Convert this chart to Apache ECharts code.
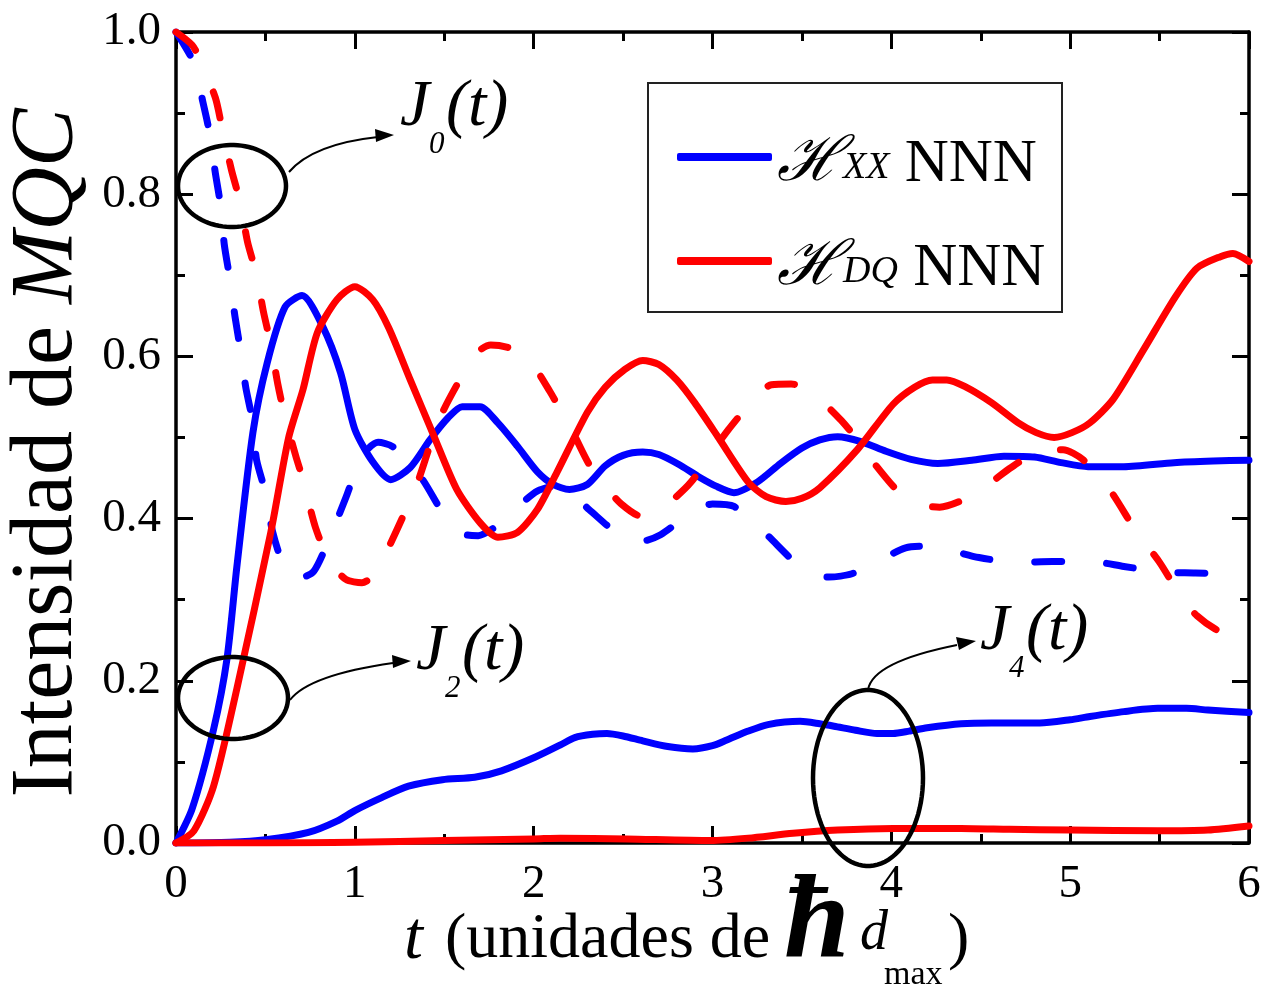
<!DOCTYPE html>
<html>
<head>
<meta charset="utf-8">
<script src="https://cdn.jsdelivr.net/npm/echarts@6/dist/echarts.min.js"></script>
<style>
  html, body { margin: 0; padding: 0; background: #fff; }
  #chart { width: 1263px; height: 986px; }
</style>
</head>
<body>
<div id="chart"></div>
<script>
// axis ticks
const xTicks = [0, 1, 2, 3, 4, 5, 6];
const yTicks = [0.0, 0.2, 0.4, 0.6, 0.8, 1.0];
const legendNames = ["XX", "DQ"];

// J0(t), dashed
const xxJ0 = [[0,1.0],[0.1,0.962],[0.15,0.914],[0.19,0.873],[0.22,0.826],[0.25,0.785],[0.27,0.738],[0.3,0.697],
  [0.33,0.649],[0.36,0.608],[0.39,0.562],[0.43,0.518],[0.45,0.473],[0.5,0.432],[0.54,0.384],[0.6,0.344],[0.68,0.326],
  [0.77,0.335],[0.86,0.377],[0.95,0.426],[1.04,0.477],[1.13,0.494],[1.21,0.489],[1.37,0.451],[1.51,0.401],[1.61,0.381],
  [1.69,0.379],[1.8,0.392],[1.91,0.414],[2.02,0.434],[2.15,0.441],[2.31,0.411],[2.49,0.378],[2.6,0.372],[2.71,0.38],
  [2.89,0.409],[3.0,0.418],[3.12,0.415],[3.29,0.383],[3.51,0.337],[3.65,0.328],[3.78,0.332],[3.92,0.347],[4.08,0.364],
  [4.2,0.366],[4.31,0.362],[4.49,0.352],[4.71,0.346],[4.9,0.347],[5.12,0.347],[5.3,0.341],[5.52,0.334],[5.7,0.333],
  [5.93,0.331],[6.0,0.329]];
const dqJ0 = [[0,1.0],[0.09,0.984],[0.13,0.968],[0.22,0.919],[0.26,0.879],[0.31,0.83],[0.36,0.789],[0.4,0.741],
  [0.45,0.701],[0.49,0.654],[0.53,0.615],[0.57,0.565],[0.61,0.525],[0.67,0.477],[0.71,0.448],[0.78,0.389],[0.86,0.347],
  [0.95,0.325],[1.04,0.321],[1.1,0.329],[1.17,0.356],[1.27,0.403],[1.35,0.444],[1.42,0.49],[1.49,0.531],[1.61,0.58],
  [1.69,0.606],[1.76,0.614],[1.87,0.61],[1.98,0.594],[2.09,0.557],[2.22,0.506],[2.31,0.467],[2.4,0.44],[2.49,0.418],
  [2.6,0.403],[2.66,0.408],[2.77,0.422],[2.88,0.445],[3.0,0.483],[3.09,0.51],[3.17,0.532],[3.23,0.549],[3.33,0.565],
  [3.44,0.566],[3.55,0.556],[3.63,0.541],[3.72,0.521],[3.8,0.5],[3.88,0.475],[4.04,0.433],[4.15,0.418],[4.27,0.414],
  [4.44,0.427],[4.56,0.445],[4.67,0.463],[4.85,0.485],[4.96,0.485],[5.07,0.473],[5.22,0.436],[5.37,0.384],[5.5,0.346],
  [5.63,0.3],[5.71,0.28],[5.81,0.264],[5.9,0.256],[6.0,0.262]];

// J2(t), solid
const xxJ2 = [[0,0],[0.09,0.042],[0.21,0.14],[0.285,0.227],[0.34,0.34],[0.43,0.506],[0.51,0.592],[0.61,0.661],
  [0.705,0.675],[0.82,0.637],[0.92,0.58],[1.0,0.51],[1.1,0.47],[1.2,0.448],[1.31,0.463],[1.42,0.497],[1.52,0.524],
  [1.6,0.538],[1.7,0.538],[1.8,0.518],[1.91,0.489],[2.02,0.458],[2.11,0.442],[2.2,0.436],[2.3,0.442],[2.4,0.465],
  [2.5,0.478],[2.61,0.482],[2.7,0.479],[2.81,0.467],[2.92,0.452],[3.02,0.44],[3.12,0.432],[3.25,0.445],[3.38,0.468],
  [3.5,0.487],[3.6,0.497],[3.7,0.501],[3.83,0.495],[3.97,0.483],[4.11,0.473],[4.26,0.468],[4.45,0.472],[4.63,0.477],
  [4.8,0.476],[4.95,0.469],[5.1,0.464],[5.3,0.464],[5.58,0.469],[5.8,0.471],[6.0,0.472]];
const dqJ2 = [[0,0],[0.1,0.015],[0.21,0.07],[0.34,0.19],[0.53,0.383],[0.63,0.5],[0.71,0.559],[0.79,0.629],[0.9,0.67],
  [1.0,0.686],[1.1,0.67],[1.19,0.635],[1.31,0.571],[1.44,0.503],[1.57,0.436],[1.7,0.395],[1.8,0.377],[1.91,0.383],
  [2.02,0.411],[2.13,0.457],[2.3,0.531],[2.4,0.562],[2.51,0.584],[2.61,0.595],[2.7,0.59],[2.8,0.571],[2.9,0.543],
  [3.03,0.501],[3.2,0.445],[3.3,0.427],[3.41,0.421],[3.5,0.425],[3.6,0.438],[3.81,0.485],[4.01,0.541],[4.13,0.562],
  [4.23,0.571],[4.31,0.571],[4.41,0.563],[4.56,0.543],[4.71,0.518],[4.81,0.506],[4.91,0.5],[5.01,0.506],[5.11,0.518],
  [5.24,0.547],[5.41,0.608],[5.59,0.674],[5.71,0.709],[5.84,0.723],[5.91,0.727],[6.0,0.717]];

// J4(t), solid
const xxJ4 = [[0,0],[0.3,0.001],[0.5,0.004],[0.74,0.013],[0.9,0.027],[1.0,0.04],[1.15,0.056],[1.3,0.07],[1.49,0.078],
  [1.67,0.081],[1.82,0.089],[2.01,0.106],[2.15,0.121],[2.23,0.13],[2.33,0.134],[2.41,0.135],[2.5,0.132],[2.61,0.126],
  [2.75,0.119],[2.89,0.116],[3.0,0.12],[3.08,0.127],[3.2,0.138],[3.31,0.146],[3.49,0.15],[3.6,0.147],[3.68,0.144],
  [3.8,0.139],[3.92,0.135],[4.01,0.135],[4.1,0.138],[4.2,0.142],[4.39,0.147],[4.56,0.148],[4.83,0.148],[5.0,0.152],
  [5.11,0.156],[5.3,0.162],[5.49,0.166],[5.65,0.166],[5.77,0.164],[6.0,0.161]];
const dqJ4 = [[0,0],[0.5,0.0],[1.0,0.001],[1.5,0.003],[2.0,0.005],[2.15,0.006],[2.52,0.005],[2.99,0.003],[3.2,0.006],
  [3.45,0.012],[3.7,0.016],[4.01,0.018],[4.39,0.018],[4.66,0.017],[5.0,0.016],[5.49,0.015],[5.77,0.016],[6.0,0.021]];

const BLUE = "#0000ff";
const RED = "#ff0000";
const SERIF = '"Liberation Serif", "Times New Roman", serif';
const SYM = '"DejaVu Serif", "Liberation Serif", serif';

function lineSeries(name, data, color, dashed) {
  return {
    name, type: "line", data, symbol: "none", showSymbol: false, smooth: 0.25,
    animation: false, silent: true,
    itemStyle: { color },
    lineStyle: { color, width: 7, type: dashed ? [27, 45] : "solid", cap: "round", join: "round" }
  };
}

function xAxisCfg(position, labels) {
  return {
    type: "value", position, min: xTicks[0], max: xTicks[xTicks.length - 1], interval: 1,
    axisLine: { show: true, onZero: false, lineStyle: { color: "#000", width: 3.5 } },
    axisTick: { show: true, inside: true, length: 17, lineStyle: { color: "#000", width: 3 } },
    minorTick: { show: true, splitNumber: 2, length: 9, lineStyle: { color: "#000", width: 3 } },
    axisLabel: { show: labels, color: "#000", fontSize: 47, fontFamily: SERIF, margin: 18 },
    splitLine: { show: false }, minorSplitLine: { show: false }
  };
}

function yAxisCfg(position, labels) {
  return {
    type: "value", position, min: yTicks[0], max: yTicks[yTicks.length - 1], interval: 0.2,
    axisLine: { show: true, onZero: false, lineStyle: { color: "#000", width: 3.5 } },
    axisTick: { show: true, inside: true, length: 17, lineStyle: { color: "#000", width: 3 } },
    minorTick: { show: true, splitNumber: 2, length: 9, lineStyle: { color: "#000", width: 3 } },
    axisLabel: { show: labels, color: "#000", fontSize: 47, fontFamily: SERIF, margin: 15, formatter: v => v.toFixed(1) },
    splitLine: { show: false }, minorSplitLine: { show: false }
  };
}

// outline of an ellipse drawn as a polygon (annotation only)
function ellipsePoints(cx, cy, rx, ry) {
  const pts = [];
  for (let i = 0; i < 90; i++) {
    const a = (i / 90) * Math.PI * 2;
    pts.push([cx + rx * Math.cos(a), cy + ry * Math.sin(a)]);
  }
  return pts;
}

function ellipse(cx, cy, rx, ry) {
  return { type: "polygon", z: 10, shape: { points: ellipsePoints(cx, cy, rx, ry) },
    style: { fill: "none", stroke: "#000", lineWidth: 4.5 } };
}

function arrow(x1, y1, cx, cy, x2, y2, tip, b1, b2) {
  return [
    { type: "bezierCurve", z: 10, shape: { x1, y1, cpx1: cx, cpy1: cy, x2, y2 },
      style: { fill: "none", stroke: "#000", lineWidth: 2 } },
    { type: "polygon", z: 10, shape: { points: [tip, b1, b2] }, style: { fill: "#000" } }
  ];
}

function txt(x, y, text, font, extra = {}) {
  return { type: "text", z: 10, x, y, style: Object.assign({ text, font, fill: "#000",
    textAlign: "left", textVerticalAlign: "middle" }, extra) };
}

function jLabel(x, y, sub) {
  return [
    txt(x, y, "J", `italic 66px ${SERIF}`),
    txt(x + 29, y + 37, sub, `italic 31px ${SERIF}`),
    txt(x + 46, y, "(t)", `italic 66px ${SERIF}`)
  ];
}

const chart = echarts.init(document.getElementById("chart"), null, { renderer: "canvas" });

chart.setOption({
  backgroundColor: "#fff",
  animation: false,
  grid: { left: 176, right: 14, top: 32, bottom: 143, containLabel: false, outerBoundsMode: "none" },
  xAxis: [xAxisCfg("bottom", true), xAxisCfg("top", false)],
  yAxis: [yAxisCfg("left", true), yAxisCfg("right", false)],
  legend: {
    data: legendNames, orient: "vertical", left: 672, top: 128, itemGap: 42,
    itemWidth: 95, itemHeight: 8, icon: "roundRect", selectedMode: false, z: 5,
    formatter: name => `{h|ℋ}{s|${name}}{n| NNN}`,
    textStyle: {
      color: "#000",
      rich: {
        h: { fontSize: 62, fontFamily: SYM, fontStyle: "italic", lineHeight: 76, verticalAlign: "bottom" },
        s: { fontSize: 38, fontFamily: SERIF, fontStyle: "italic", lineHeight: 76, verticalAlign: "bottom", padding: [0, 0, 8, 0] },
        n: { fontSize: 61, fontFamily: SERIF, lineHeight: 76, verticalAlign: "bottom" }
      }
    }
  },
  graphic: [
    { type: "rect", z: 3, shape: { x: 648, y: 83, width: 414, height: 229 },
      style: { fill: "#fff", stroke: "#222", lineWidth: 2 } },
    ellipse(232, 186, 54, 41),
    ellipse(233, 698, 55, 41),
    ellipse(868, 778, 55, 88),
    ...arrow(289, 172, 313, 144, 378, 137, [394, 135], [375, 129], [376, 142]),
    ...arrow(290, 700, 309, 675, 393, 663, [411, 661], [392, 655], [393, 668]),
    ...arrow(868, 690, 872, 662, 957, 645, [976, 641], [956, 637], [959, 650]),
    ...jLabel(400, 108, "0"),
    ...jLabel(416, 652, "2"),
    ...jLabel(980, 632, "4"),
    // x axis title
    txt(404, 940, "t", `italic 68px ${SERIF}`),
    txt(445, 940, "(unidades de", `64px ${SERIF}`),
    txt(784, 926, "ħ", `italic bold 118px ${SERIF}`),
    txt(860, 934, "d", `italic 56px ${SERIF}`),
    txt(884, 975, "max", `34px ${SERIF}`),
    txt(948, 940, ")", `64px ${SERIF}`),
    // y axis title
    { type: "text", z: 10, x: 48, y: 453, rotation: Math.PI / 2,
      style: { text: "{a|Intensidad de }{b|MQC}", fill: "#000", textAlign: "center", textVerticalAlign: "middle",
        rich: {
          a: { fontSize: 88, fontFamily: SERIF, fill: "#000" },
          b: { fontSize: 88, fontFamily: SERIF, fontStyle: "italic", fill: "#000" }
        } } }
  ],
  series: [
    lineSeries("XX", xxJ2, BLUE, false),
    lineSeries("XX", xxJ0, BLUE, true),
    lineSeries("XX", xxJ4, BLUE, false),
    lineSeries("DQ", dqJ2, RED, false),
    lineSeries("DQ", dqJ0, RED, true),
    lineSeries("DQ", dqJ4, RED, false)
  ]
});
</script>
</body>
</html>
